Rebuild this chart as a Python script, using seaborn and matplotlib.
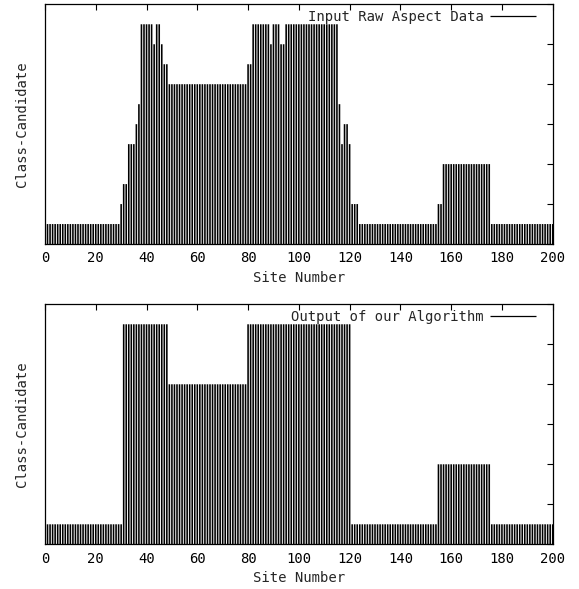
import numpy as np
import seaborn as sns
import matplotlib.pyplot as plt

# site numbers 1..200, class values stored as runs (level, run length)
raw_levels = [1, 2, 3, 5, 6, 7, 11, 10, 11, 10, 9, 8, 9, 11, 10, 11, 10, 11, 7, 5, 6, 5, 2, 1, 2, 4, 1]
raw_runs = [29, 1, 2, 3, 1, 1, 5, 1, 2, 1, 2, 31, 2, 7, 1, 3, 2, 21, 1, 1, 2, 1, 3, 31, 2, 19, 25]

out_levels = [1, 11, 8, 11, 1, 4, 1]
out_runs = [30, 18, 31, 41, 34, 21, 25]

sites = np.arange(1, 201)
raw_class = np.repeat(raw_levels, raw_runs)
out_class = np.repeat(out_levels, out_runs)

titles = ['Input Raw Aspect Data', 'Output of our Algorithm']
x_ticks = list(range(0, 201, 20))
y_ticks = list(range(0, 13, 2))

sns.set_style('white')
plt.rcParams['font.family'] = ['DejaVu Sans Mono']
fs = 10

fig = plt.figure(figsize=(5.79, 5.89), dpi=100)
ax1 = fig.add_axes([0.0777, 0.5857, 0.8769, 0.407])
ax2 = fig.add_axes([0.0777, 0.0759, 0.8769, 0.4075])

for ax, vals, name in [(ax1, raw_class, titles[0]), (ax2, out_class, titles[1])]:
    ax.vlines(sites, 0, vals, color='black', lw=1.15, snap=False, label=name)
    ax.set_xlim(0, 200)
    ax.set_ylim(0, 12)
    ax.set_xticks(x_ticks)
    ax.set_yticks(y_ticks)
    ax.set_yticklabels([])
    ax.tick_params(direction='in', top=True, right=True, length=4.5, width=0.8,
                   labelsize=fs, pad=5.3, colors='black')
    for s in ax.spines.values():
        s.set_color('black')
        s.set_linewidth(0.9)
    ax.set_xlabel('Site Number', fontsize=fs, labelpad=4)
    ax.set_ylabel('Class-Candidate', fontsize=fs, labelpad=6.5)
    leg = ax.legend(loc='upper right', bbox_to_anchor=(0.967, 0.975), frameon=False,
                    markerfirst=False, fontsize=fs, borderpad=0, borderaxespad=0,
                    handlelength=3.3, handletextpad=0.45)
    for h in leg.legend_handles:
        h.set_linewidth(0.9)

fig.savefig('out.png', dpi=100)
